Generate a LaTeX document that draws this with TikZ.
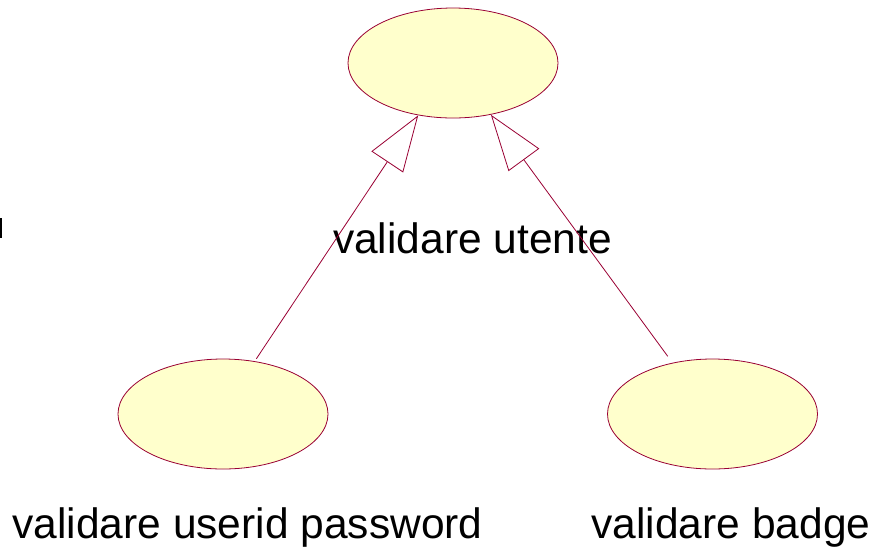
\documentclass[tikz,border=0pt]{standalone}
\usepackage{fontspec}
\setmainfont{Liberation Sans}
\usepackage{tikz}
\usetikzlibrary{positioning,arrows.meta,shapes.geometric}
\usepackage{xcolor}
\definecolor{caseline}{HTML}{990033}
\definecolor{casefill}{HTML}{FFFFCC}

\begin{document}
\begin{tikzpicture}[x=1pt, y=-1pt, line width=0.8pt,
    usecase/.style={ellipse, draw=caseline, fill=casefill, minimum width=210pt, minimum height=110pt, inner sep=0pt},
    casename/.style={font=\fontsize{42.5}{42.5}\selectfont, inner sep=0pt, anchor=base},
    generalize/.style={draw=caseline, shorten <=3pt, -{Triangle[open, length=56pt, width=38pt, fill=white]}}]
    \useasboundingbox (0,0) rectangle (877,550);
    \node[usecase] (utente) at (453,63) {};
    \node[usecase] (password) at (223,414) {};
    \node[usecase] (badge) at (712.5,414) {};
    \node[casename] (utentename) at (472.5,253) {validare utente};
    \node[casename] (passwordname) at (247.5,538) {validare userid password};
    \node[casename] (badgename) at (731,538) {validare badge};
    \draw[generalize] (password.59) -- (utente);
    \draw[generalize, shorten <=8pt] (badge.128) -- (utente);
    \draw[line width=1.2pt] (1,218) -- (1,238);
  \end{tikzpicture}
\end{document}
